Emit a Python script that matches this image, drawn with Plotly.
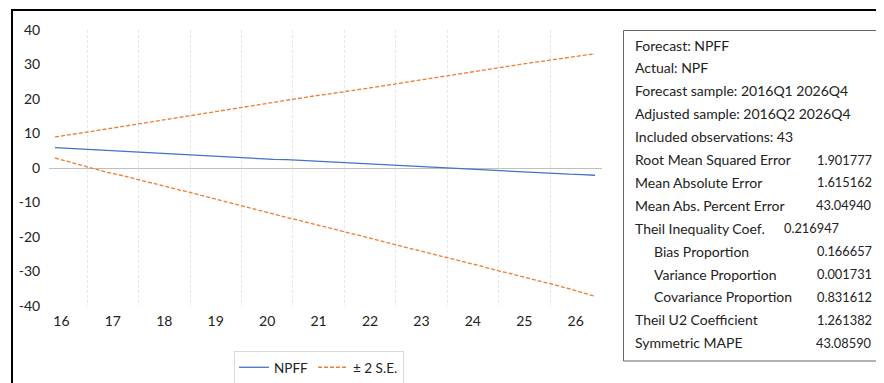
import plotly.graph_objects as go

# ---------------- data ----------------
quarters = [f"{y}Q{q}" for y in range(2016, 2027) for q in range(1, 5)][1:]  # 2016Q2 .. 2026Q4

npff = [5.9, 5.7, 5.5,
        5.2, 5.0, 4.8, 4.6,
        4.3, 4.1, 4.0, 3.8,
        3.6, 3.4, 3.2, 3.0,
        2.8, 2.6, 2.5, 2.4,
        2.2, 2.0, 1.8, 1.6,
        1.4, 1.3, 1.1, 0.9,
        0.6, 0.4, 0.2, 0.0,
        -0.2, -0.4, -0.6, -0.8,
        -1.0, -1.2, -1.4, -1.5,
        -1.6, -1.8, -1.9, -2.1]

upper = [9.0, 9.5, 10.1,
         10.7, 11.3, 11.9, 12.5,
         13.1, 13.7, 14.3, 14.9,
         15.5, 16.1, 16.7, 17.3,
         18.0, 18.6, 19.2, 19.8,
         20.3, 20.8, 21.3, 21.8,
         22.4, 22.9, 23.5, 24.1,
         24.7, 25.3, 25.9, 26.5,
         27.0, 27.6, 28.2, 28.7,
         29.3, 29.9, 30.5, 31.0,
         31.6, 32.1, 32.6, 33.1]

lower = [2.9, 1.9, 0.8,
         -0.3, -1.2, -2.0, -2.9,
         -3.8, -4.7, -5.6, -6.6,
         -7.6, -8.5, -9.5, -10.5,
         -11.5, -12.4, -13.3, -14.3,
         -15.2, -16.1, -17.0, -18.0,
         -18.9, -19.8, -20.8, -21.8,
         -22.7, -23.6, -24.6, -25.6,
         -26.5, -27.4, -28.3, -29.3,
         -30.2, -31.1, -32.0, -33.0,
         -34.0, -35.0, -36.1, -37.2]

year_labels = ["16", "17", "18", "19", "20", "21", "22", "23", "24", "25", "26"]
y_ticks = [-40, -30, -20, -10, 0, 10, 20, 30, 40]

stats_labels = ["Forecast: NPFF", "Actual: NPF", "Forecast sample: 2016Q1 2026Q4",
                "Adjusted sample: 2016Q2 2026Q4", "Included observations: 43",
                "Root Mean Squared Error", "Mean Absolute Error", "Mean Abs. Percent Error",
                "Theil Inequality Coef.", "Bias Proportion", "Variance Proportion",
                "Covariance Proportion", "Theil U2 Coefficient", "Symmetric MAPE"]
stats_values = ["", "", "", "", "", "1.901777", "1.615162", "43.04940", "0.216947",
                "0.166657", "0.001731", "0.831612", "1.261382", "43.08590"]
stats_indent = [False]*9 + [True, True, True] + [False, False]

# ---------------- positions ----------------
xpos = [int(q[:4]) + (int(q[-1]) - 1) / 4 for q in quarters]
tickvals = [2000 + int(s) + 0.375 for s in year_labels]
gridvals = [2000 + int(s) + 0.875 for s in year_labels[:-1]]

FONT = "Lato, 'Open Sans', sans-serif"
BLUE = "#4472C4"
ORANGE = "#ED7D31"

fig = go.Figure()
fig.add_trace(go.Scatter(x=xpos, y=npff, mode="lines", name="NPFF",
                         line=dict(color=BLUE, width=1.3)))
fig.add_trace(go.Scatter(x=xpos, y=upper, mode="lines", name="± 2 S.E.",
                         legendgroup="se",
                         line=dict(color=ORANGE, width=1.3, dash="4px,2px")))
fig.add_trace(go.Scatter(x=xpos, y=lower, mode="lines", name="± 2 S.E.",
                         legendgroup="se", showlegend=False,
                         line=dict(color=ORANGE, width=1.3, dash="4px,2px")))

OFF = 8  # page body margin
W, H = 884, 383
L, T = 49 - OFF, 30 - OFF
pw, ph = 553, 276
R = W - L - pw
B = H - T - ph


def px(xp):
    return (xp - OFF - L) / pw


def py(yp):
    return (H - B - (yp - OFF)) / ph


fig.update_layout(
    width=W, height=H,
    margin=dict(l=L, r=R, t=T, b=B, pad=0, autoexpand=False),
    paper_bgcolor="white", plot_bgcolor="white",
    font=dict(family=FONT, size=13, color="#222"),
    showlegend=True,
    legend=dict(orientation="h", x=px(234), y=py(351), xanchor="left", yanchor="top",
                bordercolor="#d9d9d9", borderwidth=1, bgcolor="white",
                font=dict(family=FONT, size=13.5, color="#222"),
                itemwidth=30, tracegroupgap=0),
    xaxis=dict(range=[2016.133, 2026.886], tickmode="array", tickvals=tickvals,
               ticktext=year_labels, showgrid=False, zeroline=False, showline=False,
               automargin=False,
               ticks="outside", ticklen=2, tickcolor="rgba(0,0,0,0)",
               tickfont=dict(family=FONT, size=14, color="#222"),
               minor=dict(tickmode="array", tickvals=gridvals, showgrid=True,
                          gridcolor="#e6e6e6", griddash="3px,2px", gridwidth=1, ticks="")),
    yaxis=dict(range=[-40, 40], tickmode="array", tickvals=y_ticks,
               ticktext=[str(v) for v in y_ticks],
               showgrid=False, zeroline=True, zerolinecolor="#bfbfbf", zerolinewidth=1,
               showline=False, automargin=False,
               ticks="outside", ticklen=5, tickcolor="rgba(0,0,0,0)",
               tickfont=dict(family=FONT, size=14, color="#222")),
)

# outer frame
fig.add_shape(type="rect", xref="paper", yref="paper",
              x0=px(12), x1=px(1000), y0=py(500), y1=py(10),
              line=dict(color="black", width=2), fillcolor="rgba(0,0,0,0)", layer="above")
# stats box
fig.add_shape(type="rect", xref="paper", yref="paper",
              x0=px(623.5), x1=px(1000), y0=py(361), y1=py(30.5),
              line=dict(color="#666", width=1), fillcolor="white", layer="above")

line_y0, line_dy = 45, 22.9
for i, (lab, val, ind) in enumerate(zip(stats_labels, stats_values, stats_indent)):
    yc = line_y0 + i * line_dy
    fig.add_annotation(xref="paper", yref="paper", x=px(652 if ind else 633), y=py(yc),
                       xanchor="left", yanchor="middle", text=lab, showarrow=False,
                       font=dict(family=FONT, size=14, color="#222"))
    if val:
        if lab.startswith("Theil Inequality"):
            fig.add_annotation(xref="paper", yref="paper", x=px(782), y=py(yc),
                               xanchor="left", yanchor="middle", text=val, showarrow=False,
                               font=dict(family=FONT, size=12.8, color="#222"))
        else:
            fig.add_annotation(xref="paper", yref="paper", x=px(874), y=py(yc),
                               xanchor="right", yanchor="middle", text=val, showarrow=False,
                               font=dict(family=FONT, size=12.8, color="#222"))

fig.write_html("out.html")
